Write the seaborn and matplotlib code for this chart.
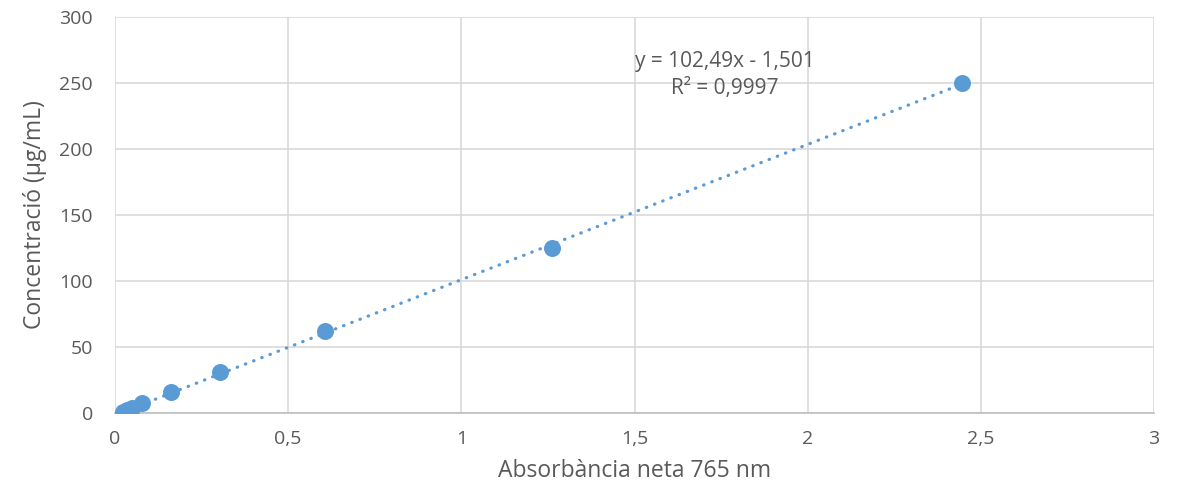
import matplotlib
matplotlib.use("Agg")
import matplotlib.pyplot as plt
import seaborn as sns
import numpy as np
import pandas as pd

absorbance = [0.022, 0.035, 0.048, 0.078, 0.163, 0.302, 0.607, 1.262, 2.445]
concentration = [0.98, 1.95, 3.9, 7.8, 15.6, 31.25, 62.5, 125.0, 250.0]
slope = 102.49
intercept = -1.501
equation_text = "y = 102,49x - 1,501\nR² = 0,9997"
x_ticks = [0, 0.5, 1, 1.5, 2, 2.5, 3]
x_tick_labels = ["0", "0,5", "1", "1,5", "2", "2,5", "3"]
y_ticks = [0, 50, 100, 150, 200, 250, 300]

sns.set_theme(style="white")
plt.rcParams['font.family'] = ['Open Sans', 'DejaVu Sans']

color = "#5b9bd5"
text_color = "#595959"

fig = plt.figure(figsize=(11.78, 4.9), dpi=100)
ax = fig.add_axes([115/1178, 1 - 413/490, (1154-115)/1178, (413-17)/490])

df = pd.DataFrame({"x": absorbance, "y": concentration})
xs = np.array([min(absorbance), max(absorbance)])
ax.plot(xs, slope * xs + intercept, linestyle=(0, (0.15, 2.6)), color=color, linewidth=2.3,
        dash_capstyle="round", zorder=2)
sns.scatterplot(data=df, x="x", y="y", ax=ax, color=color, s=150, edgecolor=color,
                linewidth=0, zorder=3, legend=False)

ax.set_xlim(0, 3)
ax.set_ylim(0, 300)
ax.set_xticks(x_ticks)
ax.set_xticklabels(x_tick_labels)
ax.set_yticks(y_ticks)
ax.grid(True, color="#d9d9d9", linewidth=1.2)
ax.set_axisbelow(True)
for s in ["top", "right", "left"]:
    ax.spines[s].set_visible(False)
ax.spines["bottom"].set_color("#bfbfbf")
ax.spines["bottom"].set_linewidth(1.2)
ax.tick_params(axis="both", length=0, labelsize=14, colors=text_color)
ax.tick_params(axis="x", pad=12)
ax.tick_params(axis="y", pad=16)
ax.set_xlabel("Absorbància neta 765 nm", fontsize=16.5, color=text_color, labelpad=8)
ax.set_ylabel("Concentració (µg/mL)", fontsize=16.5, color=text_color, labelpad=9)

ax.text(1.76, 256, equation_text, ha="center", va="center", fontsize=15,
        color=text_color, linespacing=1.35)

fig.savefig("out.png", dpi=100)
